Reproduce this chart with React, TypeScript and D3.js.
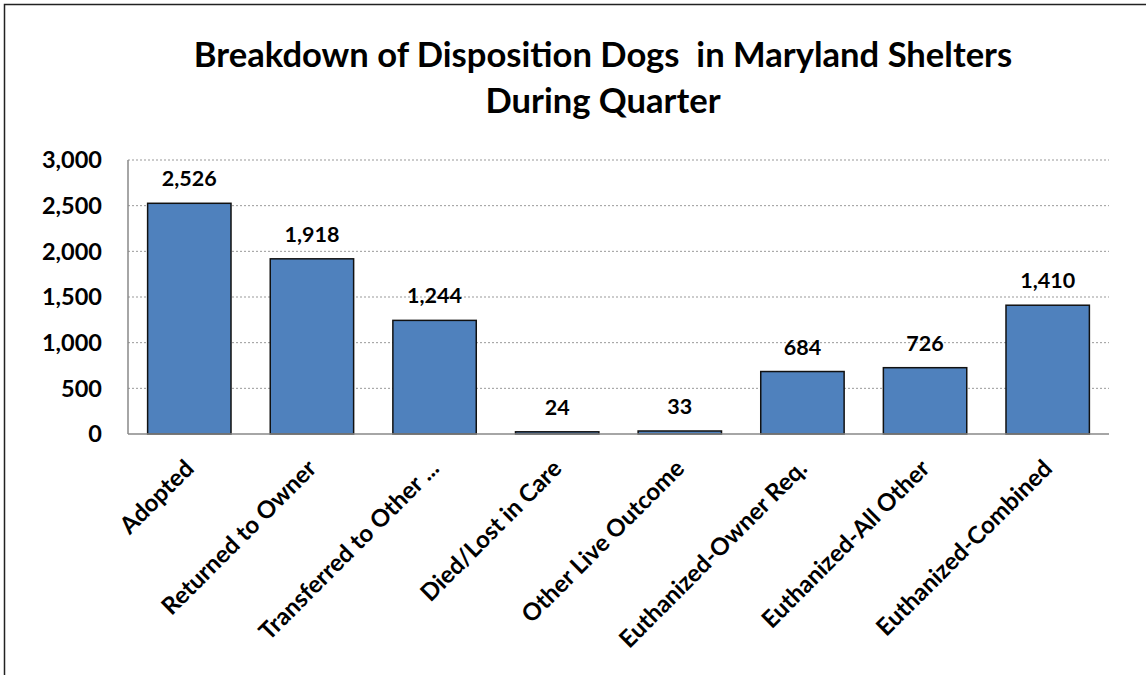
import React, { useEffect, useRef } from 'react';
import * as d3 from 'd3';

const categories = [
  'Adopted',
  'Returned to Owner',
  'Transferred to Other ...',
  'Died/Lost in Care',
  'Other Live Outcome',
  'Euthanized-Owner Req.',
  'Euthanized-All Other',
  'Euthanized-Combined',
];
const dogCounts = [2526, 1918, 1244, 24, 33, 684, 726, 1410];
const yTicks = [0, 500, 1000, 1500, 2000, 2500, 3000];
const titleLines = ['Breakdown of Disposition Dogs  in Maryland Shelters', 'During Quarter'];

const W = 1146;
const H = 675;
const FONT = 'Lato, "Open Sans", sans-serif';

const App: React.FC = () => {
  const svgRef = useRef<SVGSVGElement>(null);

  useEffect(() => {
    if (!svgRef.current) return;
    const svg = d3.select(svgRef.current);
    svg.selectAll('*').remove();

    const margin = { top: 160, left: 128, right: W - 1109, bottom: H - 434 };
    const innerW = W - margin.left - margin.right;
    const innerH = H - margin.top - margin.bottom;

    // outer frame
    svg.append('rect')
      .attr('x', 4.5).attr('y', 4.5)
      .attr('width', W + 20).attr('height', H + 20)
      .attr('fill', 'white')
      .attr('stroke', '#222')
      .attr('stroke-width', 1.5);

    // title
    const title = svg.append('text')
      .attr('text-anchor', 'middle')
      .attr('font-family', FONT)
      .attr('font-weight', 'bold')
      .attr('font-size', 34.6)
      .attr('fill', '#000');
    titleLines.forEach((line, i) => {
      title.append('tspan')
        .attr('x', 603)
        .attr('y', 67 + i * 46)
        .style('white-space', 'pre')
        .text(line);
    });

    const x = d3.scaleBand<string>()
      .domain(categories)
      .range([0, innerW])
      .paddingInner(0.32)
      .paddingOuter(0.16);

    const y = d3.scaleLinear()
      .domain([0, 3000])
      .range([innerH, 0]);

    const g = svg.append('g')
      .attr('transform', `translate(${margin.left},${margin.top})`);

    // gridlines
    g.append('g')
      .selectAll('line')
      .data(yTicks.filter(t => t > 0))
      .join('line')
      .attr('x1', 0).attr('x2', innerW)
      .attr('y1', d => y(d)).attr('y2', d => y(d))
      .attr('stroke', '#999')
      .attr('stroke-width', 1)
      .attr('stroke-dasharray', '2,2');

    // y tick labels
    g.append('g')
      .selectAll('text')
      .data(yTicks)
      .join('text')
      .attr('x', -26)
      .attr('y', d => y(d))
      .attr('dy', '0.35em')
      .attr('text-anchor', 'end')
      .attr('font-family', FONT)
      .attr('font-weight', 'bold')
      .attr('font-size', 23.5)
      .text(d => d3.format(',')(d));

    // bars
    g.append('g')
      .selectAll('rect')
      .data(dogCounts)
      .join('rect')
      .attr('x', (_, i) => x(categories[i])!)
      .attr('y', d => y(d))
      .attr('width', x.bandwidth())
      .attr('height', d => innerH - y(d))
      .attr('fill', '#4F81BD')
      .attr('stroke', '#111')
      .attr('stroke-width', 1.5);

    // value labels
    g.append('g')
      .selectAll('text')
      .data(dogCounts)
      .join('text')
      .attr('x', (_, i) => x(categories[i])! + x.bandwidth() / 2)
      .attr('y', d => y(d) - 17)
      .attr('text-anchor', 'middle')
      .attr('font-family', FONT)
      .attr('font-weight', 'bold')
      .attr('font-size', 21.5)
      .text(d => d3.format(',')(d));

    // axis lines
    g.append('line')
      .attr('x1', 0).attr('x2', 0)
      .attr('y1', 0).attr('y2', innerH)
      .attr('stroke', '#888').attr('stroke-width', 1.5);
    g.append('line')
      .attr('x1', 0).attr('x2', innerW)
      .attr('y1', innerH).attr('y2', innerH)
      .attr('stroke', '#888').attr('stroke-width', 1.5);

    // category labels
    g.append('g')
      .selectAll('text')
      .data(categories)
      .join('text')
      .attr('transform', d => `translate(${x(d)! + x.bandwidth() / 2 + 6},${innerH + 36}) rotate(-45)`)
      .attr('text-anchor', 'end')
      .attr('font-family', FONT)
      .attr('font-weight', 'bold')
      .attr('font-size', 24)
      .text(d => d);
  }, []);

  return (
    <div style={{ position: 'fixed', left: 0, top: 0, width: W, height: H, background: 'white' }}>
      <svg ref={svgRef} width={W} height={H} style={{ display: 'block' }} />
    </div>
  );
};

export default App;
